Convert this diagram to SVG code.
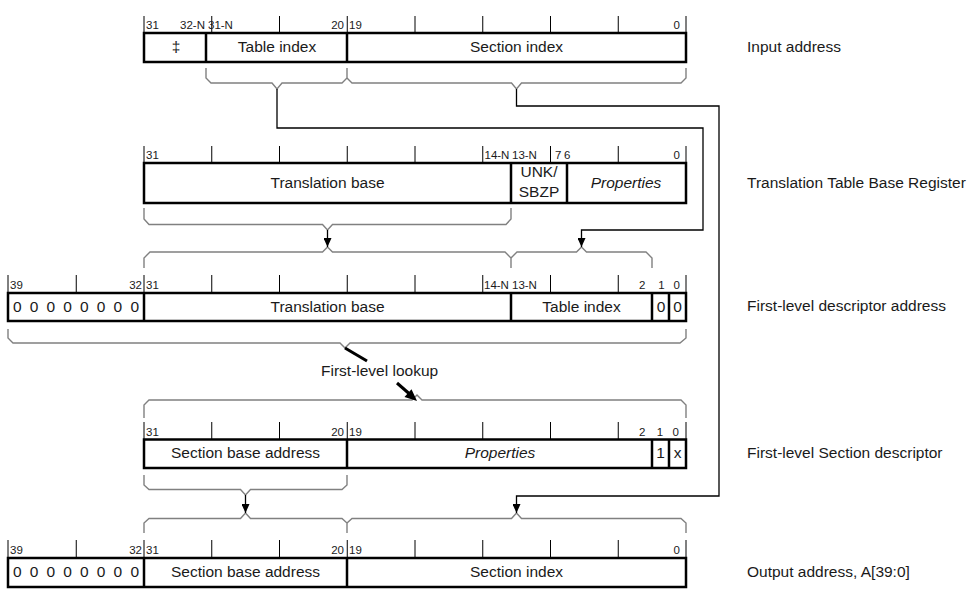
<svg xmlns="http://www.w3.org/2000/svg" width="975" height="590" viewBox="0 0 975 590">
<defs>
<style>
text{font-family:"Liberation Sans",Arial,sans-serif;fill:#1a1a1a}
.f{font-size:15.5px;text-anchor:middle}
.b{font-size:11.5px}
.e{text-anchor:end}
.m{text-anchor:middle}
.lab{font-size:15.5px}
.it{font-style:italic}
.box{fill:#fff;stroke:#000;stroke-width:2.5}
.div{stroke:#000;stroke-width:2.5;fill:none}
.tick{stroke:#000;stroke-width:1;fill:none}
.brace{stroke:#808080;stroke-width:1.4;fill:none}
.con{stroke:#000;stroke-width:1.3;fill:none}
</style>
<marker id="arr" markerUnits="userSpaceOnUse" markerWidth="9" markerHeight="8" viewBox="0 0 9 8" refX="9" refY="4" orient="auto">
<path d="M0,0 L9,4 L0,8 z" fill="#000"/>
</marker>
</defs>
<rect width="975" height="590" fill="#fff"/>

<g id="input-address">
<path class="tick" d="M144,16V33M211.75,16V33M279.5,16V33M347.25,16V33M415,16V33M482.75,16V33M550.5,16V33M618.25,16V33M686,16V33"/>
<rect class="box" x="144" y="33" width="542" height="29"/>
<path class="div" d="M206,33V62M347,33V62"/>
<text class="b" x="146" y="29">31</text>
<text class="b e" x="205" y="29">32-N</text>
<text class="b" x="208" y="29">31-N</text>
<text class="b e" x="344" y="29">20</text>
<text class="b" x="349" y="29">19</text>
<text class="b e" x="680" y="29">0</text>
<text class="f" x="176" y="52">‡</text>
<text class="f" x="277" y="52">Table index</text>
<text class="f" x="516.5" y="52">Section index</text>
<text class="lab" x="747" y="52">Input address</text>
</g>

<g id="ttbr">
<path class="tick" d="M144,146V163M211.75,146V163M279.5,146V163M347.25,146V163M415,146V163M482.75,146V163M550.5,146V163M618.25,146V163M686,146V163"/>
<rect class="box" x="144" y="163" width="542" height="40"/>
<path class="div" d="M511,163V203M567,163V203"/>
<text class="b" x="146" y="159">31</text>
<text class="b" x="484.5" y="159">14-N</text>
<text class="b" x="512" y="159">13-N</text>
<text class="b" x="555" y="159">7</text>
<text class="b" x="564" y="159">6</text>
<text class="b e" x="680" y="159">0</text>
<text class="f" x="327.5" y="188">Translation base</text>
<text class="f" x="539" y="177">UNK/</text>
<text class="f" x="539" y="197">SBZP</text>
<text class="f it" x="626" y="188">Properties</text>
<text class="lab" x="747" y="188">Translation Table Base Register</text>
</g>

<g id="first-level-descriptor-address">
<path class="tick" d="M8,275V293M76.25,275V293M144,275V293M211.75,275V293M279.5,275V293M347.25,275V293M415,275V293M482.75,275V293M550.5,275V293M618.25,275V293M686,275V293"/>
<rect class="box" x="8" y="293" width="678" height="28"/>
<path class="div" d="M144,293V321M511,293V321M652,293V321M669,293V321"/>
<text class="b" x="10" y="289">39</text>
<text class="b e" x="142" y="289">32</text>
<text class="b" x="146" y="289">31</text>
<text class="b" x="484" y="289">14-N</text>
<text class="b" x="512" y="289">13-N</text>
<text class="b e" x="645.5" y="289">2</text>
<text class="b m" x="661.5" y="289">1</text>
<text class="b e" x="680" y="289">0</text>
<text class="f" x="13" y="312" style="text-anchor:start" textLength="126" lengthAdjust="spacing">0 0 0 0 0 0 0 0</text>
<text class="f" x="327.5" y="312">Translation base</text>
<text class="f" x="581.5" y="312">Table index</text>
<text class="f" x="661" y="312">0</text>
<text class="f" x="677.5" y="312">0</text>
<text class="lab" x="747" y="311">First-level descriptor address</text>
</g>

<g id="first-level-section-descriptor">
<path class="tick" d="M144,422V439.5M211.75,422V439.5M279.5,422V439.5M347.25,422V439.5M415,422V439.5M482.75,422V439.5M550.5,422V439.5M618.25,422V439.5M686,422V439.5"/>
<rect class="box" x="144" y="439.5" width="542" height="28.5"/>
<path class="div" d="M347,439.5V468M652,439.5V468M669,439.5V468"/>
<text class="b" x="146" y="435.5">31</text>
<text class="b e" x="344" y="435.5">20</text>
<text class="b" x="349" y="435.5">19</text>
<text class="b e" x="645.5" y="435.5">2</text>
<text class="b m" x="660" y="435.5">1</text>
<text class="b e" x="679" y="435.5">0</text>
<text class="f" x="245.5" y="458">Section base address</text>
<text class="f it" x="500" y="458">Properties</text>
<text class="f" x="660.5" y="458">1</text>
<text class="f" x="677.5" y="458">x</text>
<text class="lab" x="747" y="458">First-level Section descriptor</text>
</g>

<g id="output-address">
<path class="tick" d="M8,540V558M76.25,540V558M144,540V558M211.75,540V558M279.5,540V558M347.25,540V558M415,540V558M482.75,540V558M550.5,540V558M618.25,540V558M686,540V558"/>
<rect class="box" x="8" y="558" width="678" height="29"/>
<path class="div" d="M144,558V587M347,558V587"/>
<text class="b" x="10" y="554">39</text>
<text class="b e" x="142" y="554">32</text>
<text class="b" x="146" y="554">31</text>
<text class="b e" x="344" y="554">20</text>
<text class="b" x="349" y="554">19</text>
<text class="b e" x="680" y="554">0</text>
<text class="f" x="13" y="577" style="text-anchor:start" textLength="126" lengthAdjust="spacing">0 0 0 0 0 0 0 0</text>
<text class="f" x="245.5" y="577">Section base address</text>
<text class="f" x="516.5" y="577">Section index</text>
<text class="lab" x="747" y="577">Output address, A[39:0]</text>
</g>

<g id="braces">
<path class="brace" d="M206,68V78L211,83H272L277,89L282,83H342L347,78V68"/>
<path class="brace" d="M347,78L352,83H511.5L516.5,89L521.5,83H681L686,78V68"/>
<path class="brace" d="M144,208V219L149,224.5H322.5L327.5,230L332.5,224.5H506L511,219V208"/>
<path class="brace" d="M144,268V258L150,252H322.5L327.5,247L332.5,252H505L511,258V268"/>
<path class="brace" d="M511,258L517,252H576.5L581.5,247L586.5,252H646L652,258V268"/>
<path class="brace" d="M8,329V338L13,343H340L345,348L350,343H680L686,338V329"/>
<path class="brace" d="M144,418V405L149,400H412L417,395L422,400H681L686,405V418"/>
<path class="brace" d="M144,475V485L149,489.5H240.5L245.5,495L250.5,489.5H342L347,485V475"/>
<path class="brace" d="M144,533V523L149,518.5H240.5L245.5,513L250.5,518.5H342L347,523V533"/>
<path class="brace" d="M347,523L352,518.5H511.5L516.5,513L521.5,518.5H681L686,523V533"/>
</g>

<g id="connectors">
<path class="con" d="M277,89V128H703V230H581.5V247" marker-end="url(#arr)"/>
<path class="con" d="M516.5,89V106H719V496H516.5V513" marker-end="url(#arr)"/>
<path class="con" d="M327.5,230V247" marker-end="url(#arr)"/>
<path class="con" d="M245.5,495V513" marker-end="url(#arr)"/>
<path d="M345,348L367,361" stroke="#000" stroke-width="3" fill="none"/>
<path d="M397,383L409,393.5" stroke="#000" stroke-width="3" fill="none"/>
<polygon points="417,401 404.5,397 411.5,389.3" fill="#000"/>
<text class="lab" x="321" y="376">First-level lookup</text>
</g>
</svg>
